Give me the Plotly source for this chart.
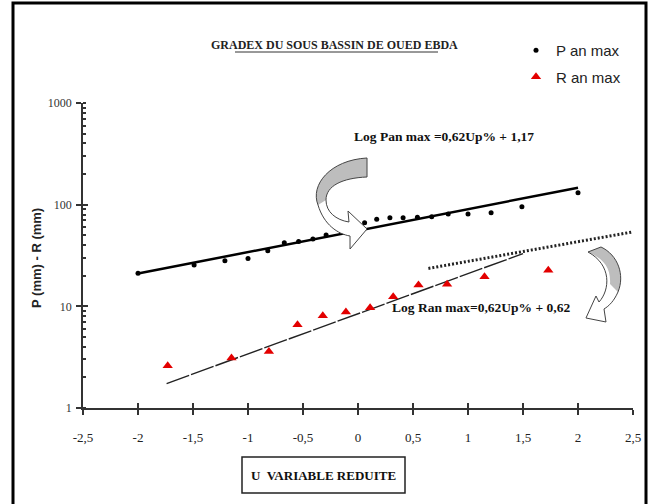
import plotly.graph_objects as go

# ---------------- data ----------------
u_p = [-2.0, -1.49, -1.21, -1.0, -0.82, -0.67, -0.54, -0.41, -0.29, -0.17, -0.06,
       0.06, 0.17, 0.29, 0.41, 0.54, 0.67, 0.82, 1.0, 1.21, 1.49, 2.0]
p_max = [21.1, 25.5, 28.1, 29.6, 35.2, 42.3, 43.5, 45.9, 50.2, 64.0, 66.5,
         66.5, 71.8, 74.5, 74.5, 75.0, 76.2, 81.0, 81.0, 83.4, 95.6, 131.0]

u_r = [-1.73, -1.15, -0.81, -0.55, -0.32, -0.11, 0.11, 0.32, 0.55, 0.81, 1.15, 1.73]
r_max = [2.6, 3.1, 3.6, 6.6, 8.1, 8.8, 9.7, 12.4, 16.2, 16.5, 19.5, 22.7]

p_fit_u = [-2.0, 2.0]
p_fit = [21.0, 147.0]
r_fit_u = [-1.74, 1.5]
r_fit = [1.74, 33.0]
r_dot_u = [0.64, 2.5]
r_dot = [23.6, 54.0]

x_ticks = [-2.5, -2, -1.5, -1, -0.5, 0, 0.5, 1, 1.5, 2, 2.5]
x_tick_labels = ["-2,5", "-2", "-1,5", "-1", "-0,5", "0", "0,5", "1", "1,5", "2", "2,5"]
y_ticks = [1, 10, 100, 1000]
y_tick_labels = ["1", "10", "100", "1000"]

title_text = "GRADEX DU SOUS BASSIN DE OUED EBDA"
eq_p = "Log Pan max =0,62Up% + 1,17"
eq_r = "Log Ran max=0,62Up% + 0,62"
x_title = "U  VARIABLE REDUITE"
y_title = "P (mm) - R (mm)"

# ---------------- layout helpers ----------------
W, H = 652, 504
ML, MR, MT, MB = 83, 19, 103, 96
PW = W - ML - MR
PH = H - MT - MB


def px(x):
    return (x - ML) / PW


def py(y):
    return (H - MB - y) / PH


def path(cmds):
    s = ""
    for c, pts in cmds:
        s += c + " " + " ".join(f"{px(x):.4f},{py(y):.4f}" for x, y in pts) + " "
    return s + "Z"


SERIF = "Liberation Serif, Times New Roman, serif"
SANS = "Liberation Sans, Arial, sans-serif"

fig = go.Figure()

fig.add_trace(go.Scatter(x=p_fit_u, y=p_fit, mode="lines",
                         line=dict(color="black", width=2.5), showlegend=False,
                         hoverinfo="skip"))
fig.add_trace(go.Scatter(x=r_fit_u, y=r_fit, mode="lines",
                         line=dict(color="#222222", width=1.4, dash="24px,2px"),
                         showlegend=False, hoverinfo="skip"))
fig.add_trace(go.Scatter(x=r_dot_u, y=r_dot, mode="lines",
                         line=dict(color="#222222", width=3, dash="2px,2px"),
                         showlegend=False, hoverinfo="skip"))
fig.add_trace(go.Scatter(x=u_p, y=p_max, mode="markers", name="P an max",
                         legendgroup="p",
                         marker=dict(symbol="circle", size=5, color="black")))
fig.add_trace(go.Scatter(x=u_r, y=r_max, mode="markers", name="R an max",
                         legendgroup="r",
                         marker=dict(symbol="triangle-up", size=9, color="#e30000")))
# helper trace to draw the inner half of the crossing ticks
fig.add_trace(go.Scatter(x=[None], y=[None], xaxis="x2", yaxis="y2",
                         showlegend=False, hoverinfo="skip"))

axis_common = dict(showgrid=False, zeroline=False, showline=True,
                   linecolor="#333333", linewidth=1.5, tickcolor="#333333",
                   tickwidth=1.5, ticks="outside", ticklen=5)

fig.update_layout(
    width=W, height=H,
    margin=dict(l=ML, r=MR, t=MT, b=MB),
    paper_bgcolor="white", plot_bgcolor="white",
    showlegend=True,
    legend=dict(x=px(516), y=py(34), xanchor="left", yanchor="top",
                font=dict(family=SANS, size=15, color="#222222"),
                bgcolor="rgba(0,0,0,0)", tracegroupgap=4, itemwidth=30),
    xaxis=dict(range=[-2.5, 2.5], tickvals=x_ticks, ticktext=x_tick_labels,
               tickfont=dict(family=SERIF, size=13, color="#222222"),
               ticklabelstandoff=12, **axis_common),
    yaxis=dict(type="log", range=[0, 3], tickvals=y_ticks, ticktext=y_tick_labels,
               tickfont=dict(family=SERIF, size=12, color="#333333"),
               ticklabelstandoff=2,
               minor=dict(ticks="inside", ticklen=3, tickcolor="#333333",
                          dtick="D1", showgrid=False),
               **axis_common),
    xaxis2=dict(overlaying="x", matches="x", anchor="y2", side="bottom",
                tickvals=x_ticks, ticks="inside", ticklen=5, tickwidth=1.5,
                tickcolor="#333333", showticklabels=False, showline=False,
                showgrid=False, zeroline=False),
    yaxis2=dict(overlaying="y", matches="y", type="log", anchor="x2", side="left",
                tickvals=y_ticks, ticks="inside", ticklen=5, tickwidth=1.5,
                tickcolor="#333333", showticklabels=False, showline=False,
                showgrid=False, zeroline=False),
)


def ann(text, x, y, size, family, angle=0, color="#111111"):
    return dict(text=text, x=px(x), y=py(y), xref="paper", yref="paper",
                xanchor="center", yanchor="middle", showarrow=False,
                textangle=angle, font=dict(family=family, size=size, color=color))


annotations = [
    ann(f"<b>{title_text}</b>", 334, 45, 12, SERIF, color="#222222"),
    ann(f"<b>{eq_p}</b>", 444, 136, 13.5, SERIF),
    ann(f"<b>{eq_r}</b>", 481, 307, 13.5, SERIF),
    ann(f"<b>{x_title}</b>", 323.5, 475, 13, SERIF),
    ann(f"<b>{y_title}</b>", 36, 258, 13, SANS, angle=-90, color="#222222"),
]
fig.update_layout(annotations=annotations)

# arrow 1 (upper, pointing right)
arrow1 = [("M", [(367, 158)]),
          ("C", [(330, 160), (310, 185), (318, 205)]),
          ("C", [(324, 225), (338, 234), (350, 236)]),
          ("L", [(350, 249)]),
          ("L", [(367, 229)]),
          ("L", [(348, 211)]),
          ("L", [(349, 222)]),
          ("C", [(336, 220), (326, 212), (326, 200)]),
          ("C", [(326, 186), (342, 178), (367, 177)])]
arrow1_fill = [("M", [(367, 158)]),
               ("C", [(330, 160), (310, 185), (318, 205)]),
               ("L", [(326, 200)]),
               ("C", [(326, 186), (342, 178), (367, 177)])]
# arrow 2 (right, pointing down-left)
arrow2 = [("M", [(601, 247)]),
          ("C", [(618, 255), (625, 275), (618, 292)]),
          ("C", [(614, 301), (609, 306), (604, 309)]),
          ("L", [(606, 322)]),
          ("L", [(586, 318)]),
          ("L", [(596, 296)]),
          ("L", [(599, 302)]),
          ("C", [(610, 290), (612, 265), (588, 252)])]
arrow2_fill = [("M", [(601, 247)]),
               ("C", [(618, 255), (625, 275), (618, 292)]),
               ("L", [(610, 284)]),
               ("C", [(611, 268), (604, 259), (588, 252)])]

shapes = [
    # outer frame
    dict(type="rect", xref="paper", yref="paper", x0=px(13), x1=px(646),
         y0=py(530), y1=py(3), line=dict(color="black", width=3), layer="above"),
    # box around x title
    dict(type="rect", xref="paper", yref="paper", x0=px(242), x1=px(405),
         y0=py(493), y1=py(457), line=dict(color="#222222", width=1.5)),
    # title underline
    dict(type="line", xref="paper", yref="paper", x0=px(235), x1=px(438),
         y0=py(52), y1=py(52), line=dict(color="#333333", width=1)),
    dict(type="path", xref="paper", yref="paper", path=path(arrow1),
         fillcolor="white", line=dict(width=0)),
    dict(type="path", xref="paper", yref="paper", path=path(arrow1_fill),
         fillcolor="#bdbdbd", line=dict(width=0)),
    dict(type="path", xref="paper", yref="paper", path=path(arrow1),
         fillcolor="rgba(0,0,0,0)", line=dict(color="#444444", width=1)),
    dict(type="path", xref="paper", yref="paper", path=path(arrow2),
         fillcolor="white", line=dict(width=0)),
    dict(type="path", xref="paper", yref="paper", path=path(arrow2_fill),
         fillcolor="#bdbdbd", line=dict(width=0)),
    dict(type="path", xref="paper", yref="paper", path=path(arrow2),
         fillcolor="rgba(0,0,0,0)", line=dict(color="#444444", width=1)),
]
fig.update_layout(shapes=shapes)

fig.write_html("out.html",
               config={"displayModeBar": False},
               post_script="document.body.style.margin='0';"
                           "document.body.style.overflow='hidden';")
